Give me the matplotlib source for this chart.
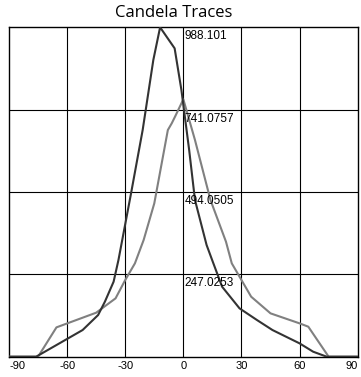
# Candela traces, two photometric curves
import matplotlib
matplotlib.use('Agg')
import matplotlib.pyplot as plt

# %% data
# dark trace (angle in degrees, candela)
ang_dark = [-90, -76, -52, -44, -40.5, -36, -33.5, -27, -21, -15.5, -12, -4.5, -1, 3, 6,
            12, 15.5, 20, 29, 38, 46, 60, 67, 74, 90]
cd_dark = [0, 0, 80, 125, 165, 225, 290, 490, 680, 890, 988.101, 925, 800, 620, 470,
           335, 280, 210, 145, 110, 80, 40, 15, 0, 0]

# light trace
ang_light = [-90, -75, -65.5, -45, -35, -30, -25, -20.5, -15, -8, -6, -4.3, 0, 6, 14,
             22, 25, 29, 35, 45, 60, 64.5, 75, 90]
cd_light = [0, 0, 88, 132, 175, 230, 280, 350, 460, 680, 700, 720, 772, 650, 470,
            345, 280, 240, 180, 130, 100, 90, 0, 0]

y_max = 988.101
y_levels = [988.101, 741.0757, 494.0505, 247.0253]
y_labels = ['988.101', '741.0757', '494.0505', '247.0253']
x_ticks = [-90, -60, -30, 0, 30, 60, 90]

# %% figure
fig = plt.figure(figsize=(3.61, 3.77), dpi=100)
ax = fig.add_axes([9 / 361, 1 - 356.7 / 377, 348.7 / 361, 329.4 / 377])

ax.plot(ang_light, cd_light, color='#808080', linewidth=1.5, zorder=3)
ax.plot(ang_dark, cd_dark, color='#333333', linewidth=1.5, zorder=4)

ax.set_xlim(-90, 90)
ax.set_ylim(0, y_max)

# grid
for xv in x_ticks[1:-1]:
    ax.axvline(xv, color='black', linewidth=0.8, zorder=1)
for yv in y_levels[1:]:
    ax.axhline(yv, color='black', linewidth=0.8, zorder=1)

# value labels along the zero line
for yv, lab in zip(y_levels, y_labels):
    ax.annotate(lab, xy=(0, yv), xytext=(0.8, -2.2), textcoords='offset points',
                ha='left', va='top', fontsize=8.5, family='Liberation Sans',
                color='black', zorder=5)

ax.set_yticks([])
ax.set_xticks(x_ticks)
ax.set_xticklabels([str(v) for v in x_ticks], fontsize=8, family='Liberation Sans')
ax.tick_params(axis='x', length=0, pad=3)
tl = ax.get_xticklabels()
tl[0].set_ha('left')
tl[-1].set_ha('right')

for sp in ax.spines.values():
    sp.set_color('black')
    sp.set_linewidth(1.0)

fig.text(174 / 361, 1 - 13 / 377, 'Candela Traces', ha='center', va='center',
         fontsize=12, family='Open Sans')

fig.savefig('out.png', dpi=100)
